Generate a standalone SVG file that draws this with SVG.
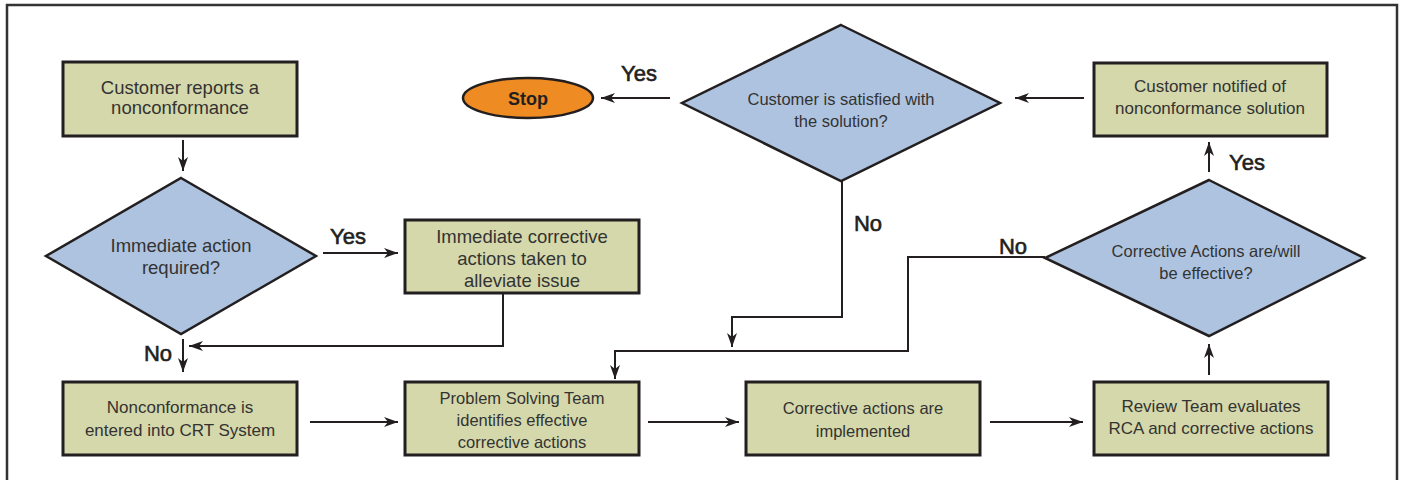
<svg xmlns="http://www.w3.org/2000/svg" width="1401" height="480" viewBox="0 0 1401 480">
  <defs>
    <marker id="arrow" markerUnits="userSpaceOnUse" markerWidth="15" markerHeight="11" refX="14" refY="5.5" orient="auto">
      <path d="M0,0.5 L14,5.5 L0,10.5 L4,5.5 Z" fill="#231f20"/>
    </marker>
    <style>
      .frame { fill: none; stroke: #333; stroke-width: 2.5; }
      .box { fill: #d5d8aa; stroke: #231f20; stroke-width: 3; }
      .dec { fill: #aec3df; stroke: #231f20; stroke-width: 2.5; stroke-linejoin: miter; }
      .term { fill: #ee8b22; stroke: #231f20; stroke-width: 2.5; }
      .edge { fill: none; stroke: #231f20; stroke-width: 2; }
      .arr { marker-end: url(#arrow); }
      text { font-family: "Liberation Sans", Arial, sans-serif; fill: #333; text-anchor: middle; }
      .big { font-size: 18.5px; }
      .mid { font-size: 17px; }
      .sm { font-size: 16.5px; }
      .lbl { font-size: 22px; fill: #231f20; stroke: #231f20; stroke-width: 0.6; }
      .stop { font-size: 18px; font-weight: bold; fill: #231f20; }
    </style>
  </defs>

  <rect width="1401" height="480" fill="#fff"/>
  <path class="frame" d="M7,484 V5 H1397 V484"/>

  <!-- connectors -->
  <g id="connectors">
    <path class="edge arr" d="M183,140 V171"/>
    <path class="edge arr" d="M323,253 H398"/>
    <path class="edge arr" d="M503,293 V346 H189"/>
    <path class="edge arr" d="M183,339 V372"/>
    <path class="edge arr" d="M310,422 H398"/>
    <path class="edge arr" d="M648,422 H739"/>
    <path class="edge arr" d="M990,422 H1083"/>
    <path class="edge arr" d="M1209,375 V344"/>
    <path class="edge arr" d="M1209,172 V142"/>
    <path class="edge arr" d="M1084,98 H1015"/>
    <path class="edge arr" d="M670,98 H601"/>
    <path class="edge arr" d="M842,181 V317 H732 V347"/>
    <path class="edge arr" d="M1045,257 H908 V351 H615 V379"/>
    <text class="lbl" x="348" y="244">Yes</text>
    <text class="lbl" x="158" y="361">No</text>
    <text class="lbl" x="639" y="81">Yes</text>
    <text class="lbl" x="1247" y="170">Yes</text>
    <text class="lbl" x="868" y="231">No</text>
    <text class="lbl" x="1013" y="254">No</text>
  </g>

  <g id="n-reports">
    <rect class="box" x="63" y="62" width="234" height="74"/>
    <text class="big" x="180" y="94">Customer reports a</text>
    <text class="big" x="180" y="114">nonconformance</text>
  </g>

  <g id="n-immediate-q">
    <polygon class="dec" points="181,178 316,256 181,334 46,256"/>
    <text class="big" x="181" y="252">Immediate action</text>
    <text class="big" x="181" y="274">required?</text>
  </g>

  <g id="n-immediate-act">
    <rect class="box" x="405" y="220" width="234" height="73"/>
    <text class="big" x="522" y="243">Immediate corrective</text>
    <text class="big" x="522" y="265">actions taken to</text>
    <text class="big" x="522" y="287">alleviate issue</text>
  </g>

  <g id="n-stop">
    <ellipse class="term" cx="528" cy="98" rx="65" ry="20"/>
    <text class="stop" x="528" y="105">Stop</text>
  </g>

  <g id="n-satisfied-q">
    <polygon class="dec" points="841,25 1000,103 841,181 682,103"/>
    <text class="sm" x="841" y="105">Customer is satisfied with</text>
    <text class="sm" x="841" y="127">the solution?</text>
  </g>

  <g id="n-notified">
    <rect class="box" x="1094" y="63" width="233" height="73"/>
    <text class="mid" x="1210" y="92">Customer notified of</text>
    <text class="mid" x="1210" y="114">nonconformance solution</text>
  </g>

  <g id="n-effective-q">
    <polygon class="dec" points="1209,180 1364,258 1209,336 1045,258"/>
    <text class="sm" x="1206" y="257">Corrective Actions are/will</text>
    <text class="sm" x="1206" y="279">be effective?</text>
  </g>

  <g id="n-entered">
    <rect class="box" x="63" y="382" width="234" height="73"/>
    <text class="mid" x="180" y="413">Nonconformance is</text>
    <text class="mid" x="180" y="436">entered into CRT System</text>
  </g>

  <g id="n-team">
    <rect class="box" x="405" y="382" width="234" height="73"/>
    <text class="sm" x="522" y="404">Problem Solving Team</text>
    <text class="sm" x="522" y="426">identifies effective</text>
    <text class="sm" x="522" y="448">corrective actions</text>
  </g>

  <g id="n-implemented">
    <rect class="box" x="746" y="382" width="234" height="73"/>
    <text class="sm" x="863" y="414">Corrective actions are</text>
    <text class="sm" x="863" y="437">implemented</text>
  </g>

  <g id="n-review">
    <rect class="box" x="1094" y="382" width="234" height="73"/>
    <text class="mid" x="1211" y="412">Review Team evaluates</text>
    <text class="mid" x="1211" y="434">RCA and corrective actions</text>
  </g>
</svg>
